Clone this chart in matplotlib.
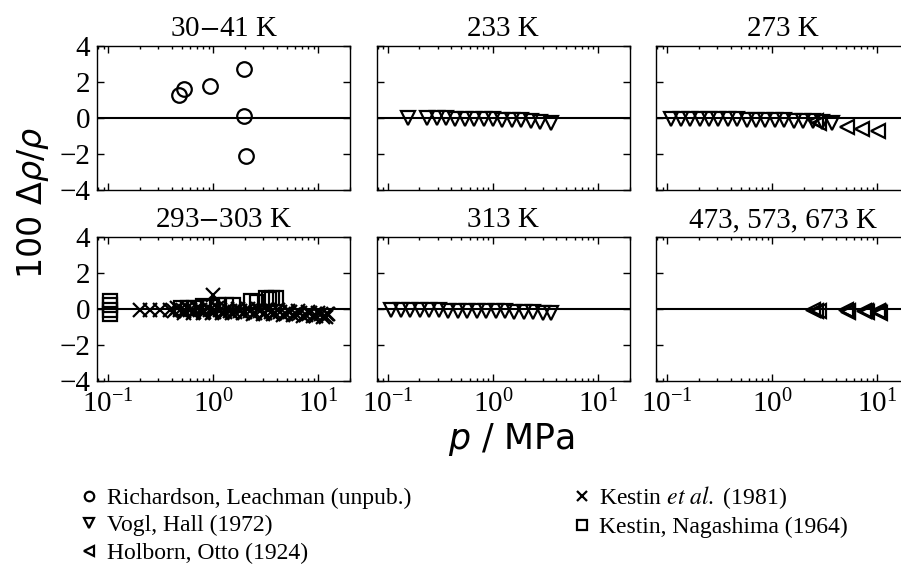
# Density deviations of several data sets from the equation of state,
# six temperature panels on a log pressure axis.

import matplotlib.pyplot as plt
from matplotlib.lines import Line2D
import matplotlib.ticker as mticker

plt.rcParams['font.family'] = 'serif'
plt.rcParams['font.serif'] = ['Liberation Serif', 'DejaVu Serif']
plt.rcParams['mathtext.fontset'] = 'stix'

FONTSIZE = 21
LEGEND_FONTSIZE = 17

# --- data (p in MPa, 100*drho/rho) ---
# Richardson, Leachman (unpub.), 30-41 K
p_rl = [0.47, 0.52, 0.93, 1.97, 1.97, 2.06]
d_rl = [1.27, 1.63, 1.78, 2.71, 0.13, -2.11]

# Vogl, Hall (1972), 233 K
p_vh_233 = [0.157, 0.238, 0.291, 0.359, 0.44, 0.543, 0.666, 0.822, 1.01,
            1.23, 1.51, 1.87, 2.31, 2.84, 3.57]
d_vh_233 = [0.02, 0.0, -0.01, -0.02, -0.03, -0.04, -0.05, -0.06, -0.07,
            -0.09, -0.11, -0.13, -0.16, -0.2, -0.26]

# Vogl, Hall (1972), 273 K
p_vh_273 = [0.109, 0.134, 0.165, 0.203, 0.249, 0.306, 0.377, 0.463, 0.57,
            0.70, 0.86, 1.06, 1.30, 1.60, 1.97, 2.42, 2.98, 3.66]
d_vh_273 = [-0.06, -0.06, -0.06, -0.07, -0.07, -0.07, -0.08, -0.08, -0.09,
            -0.09, -0.1, -0.11, -0.12, -0.14, -0.16, -0.18, -0.21, -0.25]

# Holborn, Otto (1924), 273 K
p_ho_273 = [2.6, 2.75, 5.1, 7.1, 10.2]
d_ho_273 = [-0.15, -0.3, -0.48, -0.62, -0.72]

# Kestin et al. (1981), 293-303 K
p_k81 = [0.20, 0.25, 0.31, 0.39, 0.48, 0.60, 0.75, 0.93, 1.16, 1.45, 1.80,
         2.25, 2.80, 3.50, 4.35, 5.40, 6.75, 8.40, 10.5, 12.1,
         0.42, 0.53, 0.66, 0.82, 1.02, 1.28, 1.60, 2.0, 2.5, 3.1, 3.9, 4.9,
         6.1, 7.6, 9.5, 11.8,
         0.45, 0.56, 0.70, 0.87, 1.09, 1.36, 1.70, 2.12, 2.65, 3.3, 4.1,
         5.1, 6.4, 8.0, 10.0, 12.3,
         0.52, 0.64, 0.79, 0.98, 1.22, 1.52, 1.9, 2.37, 2.95, 3.7, 4.6,
         5.7, 7.1, 8.9, 11.1,
         1.0]
d_k81 = [-0.05, -0.04, -0.05, -0.06, -0.05, -0.06, -0.07, -0.08, -0.08,
         -0.09, -0.10, -0.11, -0.12, -0.14, -0.16, -0.18, -0.21, -0.24,
         -0.27, -0.30,
         -0.12, -0.13, -0.14, -0.15, -0.16, -0.17, -0.18, -0.19, -0.2,
         -0.21, -0.23, -0.25, -0.29, -0.33, -0.38, -0.44,
         0.05, 0.04, 0.04, 0.03, 0.03, 0.02, 0.01, 0.0, -0.02, -0.04,
         -0.06, -0.09, -0.12, -0.16, -0.2, -0.25,
         -0.2, -0.2, -0.21, -0.22, -0.22, -0.23, -0.24, -0.25, -0.27,
         -0.29, -0.31, -0.34, -0.37, -0.41, -0.46,
         0.78]

# Kestin, Nagashima (1964), 293-303 K
p_kn = [0.104, 0.104, 0.104, 0.104, 0.492, 0.574, 0.655, 0.798, 0.931,
        1.11, 1.32, 1.54, 2.29, 2.61, 3.18, 3.40, 3.63, 3.92]
d_kn = [0.43, 0.21, -0.03, -0.25, 0.04, 0.05, 0.03, 0.14, 0.13, 0.22,
        0.23, 0.2, 0.42, 0.4, 0.6, 0.58, 0.62, 0.6]

# Vogl, Hall (1972), 313 K
p_vh_313 = [0.108, 0.133, 0.164, 0.202, 0.248, 0.305, 0.376, 0.462, 0.569,
            0.70, 0.861, 1.06, 1.30, 1.60, 1.97, 2.43, 2.99, 3.61]
d_vh_313 = [-0.07, -0.07, -0.07, -0.08, -0.08, -0.08, -0.09, -0.09, -0.1,
            -0.1, -0.11, -0.12, -0.13, -0.14, -0.16, -0.18, -0.21, -0.24]

# Holborn, Otto (1924), 473, 573, 673 K
p_ho_hot = [2.45, 2.6, 2.75, 5.0, 5.2, 5.3, 7.5, 7.8, 8.0, 10.1, 10.4, 10.6]
d_ho_hot = [-0.05, -0.1, -0.13, -0.05, -0.1, -0.15, -0.1, -0.13, -0.18,
            -0.12, -0.16, -0.2]

titles = ['30$-$41 K', '233 K', '273 K', '293$-$303 K', '313 K',
          '473, 573, 673 K']
labels = ['Richardson, Leachman (unpub.)', 'Vogl, Hall (1972)',
          'Holborn, Otto (1924)', r'Kestin $\mathit{et\ al.}$ (1981)',
          'Kestin, Nagashima (1964)']

style = dict(ls='none', mfc='none', mec='k', mew=1.6)
mk = {'rl': ('o', 10.5), 'vh': ('v', 10.5), 'ho': ('<', 10.5),
      'k81': ('x', 10.5), 'kn': ('s', 10)}

panels = [
    [('rl', p_rl, d_rl)],
    [('vh', p_vh_233, d_vh_233)],
    [('vh', p_vh_273, d_vh_273), ('ho', p_ho_273, d_ho_273)],
    [('kn', p_kn, d_kn), ('k81', p_k81, d_k81)],
    [('vh', p_vh_313, d_vh_313)],
    [('ho', p_ho_hot, d_ho_hot)],
]

fig = plt.figure(figsize=(9.01, 5.69), dpi=100)
W, H = 901.0, 569.0
col_left = [97, 376.5, 656]
row_top = [46, 237]
aw, ah = 253.5, 144

for i, series in enumerate(panels):
    r, c = divmod(i, 3)
    ax = fig.add_axes([col_left[c] / W, 1 - (row_top[r] + ah) / H,
                       aw / W, ah / H])
    ax.axhline(0, color='k', lw=1.5, zorder=1)
    for key, p, d in series:
        m, ms = mk[key]
        ax.plot(p, d, marker=m, ms=ms, zorder=2, **style)
    ax.set_xscale('log')
    ax.set_xlim(0.078, 20.2)
    ax.set_ylim(-4, 4)
    ax.set_yticks([-4, -2, 0, 2, 4])
    ax.xaxis.set_major_locator(mticker.LogLocator(base=10, numticks=10))
    ax.tick_params(which='both', direction='in', top=True, right=True,
                   labelsize=FONTSIZE, width=1.0)
    ax.tick_params(which='major', length=5, pad=5)
    ax.tick_params(which='minor', length=2.5)
    ax.tick_params(axis='x', which='major', pad=6)
    for s in ax.spines.values():
        s.set_linewidth(1.0)
    if c > 0:
        ax.tick_params(labelleft=False)
    if r == 0:
        ax.tick_params(labelbottom=False)
    ax.set_title(titles[i], fontsize=FONTSIZE, pad=7)

fig.text(33 / W, 1 - 203 / H, r'100 $\Delta\rho/\rho$', rotation=90,
         ha='center', va='center', fontsize=24, family='DejaVu Sans',
         math_fontfamily='dejavusans')
fig.text(512 / W, 1 - 440 / H, r'$p$ / MPa', ha='center', va='center',
         fontsize=25, family='DejaVu Sans', math_fontfamily='dejavusans')

handles = [Line2D([], [], marker=mk[k][0], ms=mk[k][1], **style)
           for k in ['rl', 'vh', 'ho', 'k81', 'kn']]
fig.legend(handles, labels, ncol=2, loc='upper left',
           bbox_to_anchor=(80 / W, 1 - 484 / H), frameon=False,
           fontsize=LEGEND_FONTSIZE, markerscale=0.65, handlelength=0.8,
           handletextpad=0.35, columnspacing=6.8, labelspacing=0.25,
           borderpad=0, borderaxespad=0)

plt.savefig('out.png', dpi=100)
